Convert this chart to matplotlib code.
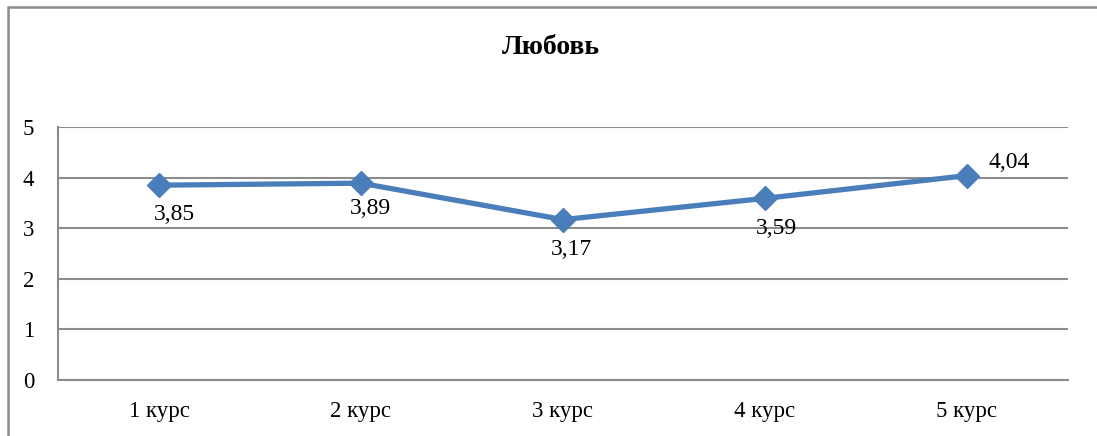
import matplotlib.pyplot as plt
from matplotlib.patches import Rectangle

categories = ["1 курс", "2 курс", "3 курс", "4 курс", "5 курс"]
values = [3.85, 3.89, 3.17, 3.59, 4.04]
value_labels = ["3,85", "3,89", "3,17", "3,59", "4,04"]
label_offsets = [(15, -29), (9, -25), (8, -30), (11, -30), (42, 13)]

plt.rcParams['font.family'] = ['Liberation Serif', 'DejaVu Serif']

fig = plt.figure(figsize=(10.97, 4.36), dpi=100)
ax = fig.add_axes([58 / 1097, 1 - 380 / 436, 1010 / 1097, 253 / 436])

x = list(range(len(categories)))
ax.plot(x, values, color="#4A7EBB", lw=3.8, marker="D", markersize=12.5, zorder=3)

for xi, v, lab, off in zip(x, values, value_labels, label_offsets):
    ax.annotate(lab, (xi, v), xytext=off, textcoords="offset pixels",
                ha="center", va="center", fontsize=17)

ax.set_xlim(-0.5, len(categories) - 0.5)
ax.set_ylim(0, 5)
ax.set_yticks(range(6))
ax.set_xticks(x)
ax.set_xticklabels(categories)
ax.yaxis.grid(True, color="#8c8c8c", lw=1.5)
ax.set_axisbelow(True)
ax.tick_params(axis="both", length=0, labelsize=16.5)
ax.tick_params(axis="y", pad=17)
ax.tick_params(axis="x", pad=15)
for s in ["top", "right"]:
    ax.spines[s].set_visible(False)
for s in ["left", "bottom"]:
    ax.spines[s].set_color("#8c8c8c")
    ax.spines[s].set_linewidth(1.5)

fig.text(551 / 1097, 1 - 48 / 436, "Любовь", ha="center", va="center",
         fontsize=20, fontweight="bold")

fig.patches.append(Rectangle((8 / 1097, -0.1), 1.2, 1 - 7 / 436 + 0.1,
                             transform=fig.transFigure, fill=False,
                             edgecolor="#8c8c8c", lw=1.8))

fig.savefig("out.png", dpi=100)
